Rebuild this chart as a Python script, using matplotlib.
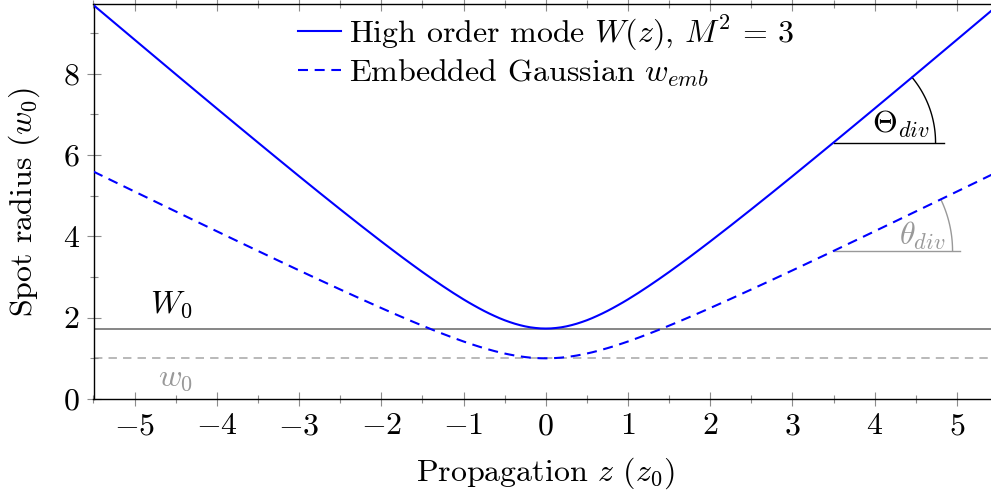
import numpy as np
import matplotlib
matplotlib.use("Agg")
import matplotlib.pyplot as plt
from matplotlib.ticker import MultipleLocator

plt.rcParams['font.family'] = 'serif'
plt.rcParams['font.serif'] = ['cmr10']
plt.rcParams['mathtext.fontset'] = 'cm'
plt.rcParams['axes.formatter.use_mathtext'] = True

# ---- data ----
z = [-5.5, -5.25, -5.0, -4.75, -4.5, -4.25, -4.0, -3.75, -3.5, -3.25, -3.0, -2.75,
     -2.5, -2.25, -2.0, -1.875, -1.75, -1.625, -1.5, -1.375, -1.25, -1.125, -1.0,
     -0.9375, -0.875, -0.8125, -0.75, -0.6875, -0.625, -0.5625, -0.5, -0.4375,
     -0.375, -0.3125, -0.25, -0.1875, -0.125, -0.0625, 0.0,
     0.0625, 0.125, 0.1875, 0.25, 0.3125, 0.375, 0.4375, 0.5, 0.5625, 0.625,
     0.6875, 0.75, 0.8125, 0.875, 0.9375, 1.0, 1.125, 1.25, 1.375, 1.5, 1.625,
     1.75, 1.875, 2.0, 2.25, 2.5, 2.75, 3.0, 3.25, 3.5, 3.75, 4.0, 4.25, 4.5,
     4.75, 5.0, 5.25, 5.5]
W_high = [9.682, 9.257, 8.832, 8.408, 7.984, 7.562, 7.141, 6.722, 6.305, 5.890,
          5.477, 5.068, 4.664, 4.265, 3.873, 3.681, 3.491, 3.305, 3.122, 2.945,
          2.773, 2.607, 2.449, 2.374, 2.302, 2.232, 2.165, 2.102, 2.043, 1.987,
          1.936, 1.891, 1.850, 1.815, 1.785, 1.762, 1.746, 1.735, 1.732,
          1.735, 1.746, 1.762, 1.785, 1.815, 1.850, 1.891, 1.936, 1.987, 2.043,
          2.102, 2.165, 2.232, 2.302, 2.374, 2.449, 2.607, 2.773, 2.945, 3.122,
          3.305, 3.491, 3.681, 3.873, 4.265, 4.664, 5.068, 5.477, 5.890, 6.305,
          6.722, 7.141, 7.562, 7.984, 8.408, 8.832, 9.257, 9.682]
w_emb = [5.590, 5.344, 5.099, 4.854, 4.610, 4.366, 4.123, 3.881, 3.640, 3.400,
         3.162, 2.926, 2.693, 2.462, 2.236, 2.125, 2.016, 1.908, 1.803, 1.700,
         1.601, 1.505, 1.414, 1.371, 1.329, 1.288, 1.250, 1.214, 1.179, 1.147,
         1.118, 1.092, 1.068, 1.048, 1.031, 1.017, 1.008, 1.002, 1.000,
         1.002, 1.008, 1.017, 1.031, 1.048, 1.068, 1.092, 1.118, 1.147, 1.179,
         1.214, 1.250, 1.288, 1.329, 1.371, 1.414, 1.505, 1.601, 1.700, 1.803,
         1.908, 2.016, 2.125, 2.236, 2.462, 2.693, 2.926, 3.162, 3.400, 3.640,
         3.881, 4.123, 4.366, 4.610, 4.854, 5.099, 5.344, 5.590]
W0 = 1.732
w0 = 1.0
anchor_z = 3.5
anchor_W = 6.305
anchor_w = 3.640
label_high = r'High order mode $W(z)$, $M^2\,=\,3$'
label_emb = r'Embedded Gaussian $w_{emb}$'

FS = 23

fig = plt.figure(figsize=(9.91, 4.98), dpi=100)
ax = fig.add_axes([93.5/991, 1-399/498, (998-93.5)/991, (399-4)/498])
ax.set_xlim(-5.5, 5.5)
ax.set_ylim(0, 9.71)

blue = (0, 0, 1)
ax.axhline(W0, color='0.4', lw=1.1, zorder=1)
ax.axhline(w0, color='0.65', lw=1.1, dashes=(5.5, 4), zorder=1)
ax.plot(z, W_high, color=blue, lw=1.5, label=label_high, zorder=3)
ax.plot(z, w_emb, color=blue, lw=1.5, dashes=(4.8, 3.2), label=label_emb, zorder=3)

ax.text(-4.55, W0 + 0.2, r'$W_0$', color='black', fontsize=FS, ha='center', va='bottom')
ax.text(-4.5, w0 - 0.17, r'$w_0$', color='0.6', fontsize=FS, ha='center', va='top')

fig.canvas.draw()
T = ax.transData
Ti = T.inverted()

def angle_mark(zc, yc, z2, y2, r_px, line_px, color, label, lab_dx, lab_dy):
    p0 = T.transform((zc, yc))
    p1 = T.transform((z2, y2))
    ang = np.arctan2(p1[1]-p0[1], p1[0]-p0[0])
    t = np.linspace(0, ang, 60)
    pts = np.column_stack([p0[0] + r_px*np.cos(t), p0[1] + r_px*np.sin(t)])
    d = Ti.transform(pts)
    ax.plot(d[:, 0], d[:, 1], color=color, lw=1.0, zorder=2)
    e = Ti.transform((p0[0] + line_px, p0[1]))
    ax.plot([zc, e[0]], [yc, e[1]], color=color, lw=1.0, zorder=2)
    lp = Ti.transform((p0[0] + lab_dx, p0[1] + lab_dy))
    ax.text(lp[0], lp[1], label, color=color, fontsize=FS, ha='center', va='center')

i1 = z.index(4.5)
angle_mark(anchor_z, anchor_W, z[i1], W_high[i1], 102, 110, 'black', r'$\Theta_{div}$', 67, 18)
angle_mark(anchor_z, anchor_w, z[i1], w_emb[i1], 119, 126, '0.6', r'$\theta_{div}$', 89, 15)

ax.xaxis.set_major_locator(MultipleLocator(1))
ax.xaxis.set_minor_locator(MultipleLocator(0.5))
ax.yaxis.set_major_locator(MultipleLocator(2))
ax.yaxis.set_minor_locator(MultipleLocator(1))
ax.tick_params(which='both', direction='inout', color='0.55', top=True, right=True,
               labelsize=FS, width=0.8)
ax.tick_params(which='major', length=10, pad=5)
ax.tick_params(which='minor', length=6)
for s in ax.spines.values():
    s.set_linewidth(1.0)

ax.set_xlabel(r'Propagation $z$ $(z_0)$', fontsize=FS, labelpad=11)
ax.set_ylabel(r'Spot radius $(w_0)$', fontsize=FS, labelpad=15)

leg = ax.legend(loc='upper center', bbox_to_anchor=(0.5, 1.0), frameon=False,
                fontsize=FS, handlelength=1.35, handletextpad=0.25, labelspacing=0.15,
                borderaxespad=0.1, borderpad=0.2)

fig.savefig('out.png', dpi=100)
